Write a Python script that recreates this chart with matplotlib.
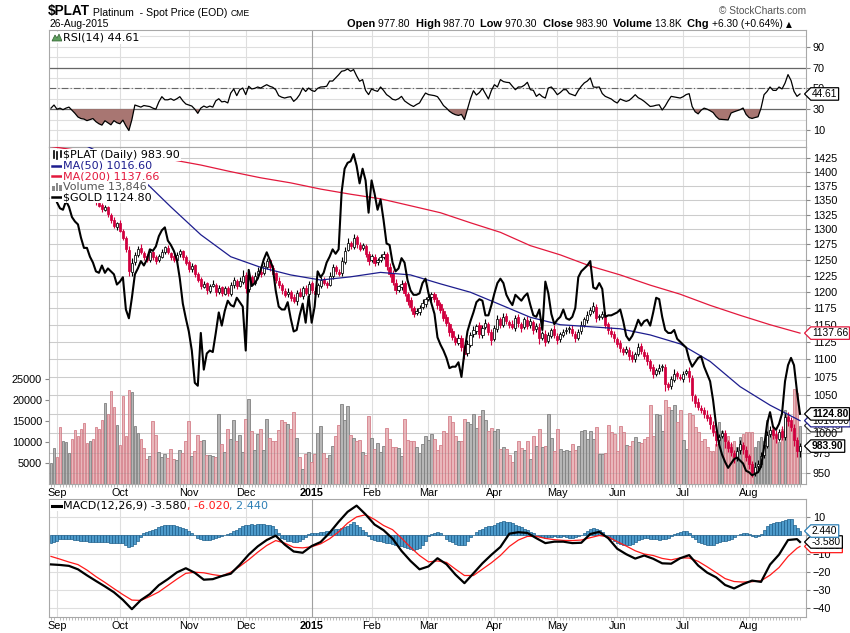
import numpy as np
import pandas as pd
import matplotlib
matplotlib.use('Agg')
import matplotlib.pyplot as plt
import matplotlib.transforms as mtransforms
from matplotlib.lines import Line2D
from matplotlib.patches import Rectangle, Polygon
from matplotlib.path import Path
from matplotlib.ticker import FixedLocator, NullLocator, FuncFormatter

plt.rcParams['font.family'] = ['DejaVu Sans']
TICK_FONT = 'Liberation Sans'

# ---------------------------------------------------------------- data
# $PLAT daily candles, 28-Aug-2014 .. 26-Aug-2015
plat_close = [
    1418, 1422, 1410, 1402, 1406, 1410, 1412, 1398, 1388, 1380,
    1372, 1365, 1358, 1362, 1352, 1346, 1340, 1334, 1338, 1326,
    1315, 1305, 1310, 1298, 1286, 1268, 1232, 1245, 1258, 1268,
    1262, 1255, 1250, 1262, 1255, 1248, 1256, 1262, 1270, 1262,
    1255, 1250, 1258, 1265, 1255, 1245, 1236, 1240, 1228, 1218,
    1208, 1212, 1202, 1208, 1212, 1200, 1206, 1198, 1205, 1198,
    1210, 1218, 1208, 1216, 1225, 1205, 1222, 1215, 1225, 1232,
    1228, 1240, 1248, 1238, 1228, 1218, 1210, 1202, 1195, 1200,
    1190, 1186, 1198, 1194, 1205, 1198, 1212, 1202, 1196, 1210,
    1218, 1214, 1210, 1225, 1238, 1232, 1228, 1248, 1265, 1278,
    1272, 1286, 1275, 1268, 1274, 1260, 1248, 1256, 1245, 1250,
    1254, 1260, 1240, 1228, 1215, 1202, 1208, 1212, 1198, 1186,
    1176, 1166, 1170, 1175, 1182, 1188, 1192, 1196, 1188, 1180,
    1172, 1160, 1152, 1140, 1132, 1125, 1130, 1118, 1108, 1122,
    1135, 1142, 1148, 1136, 1145, 1152, 1140, 1128, 1145, 1158,
    1150, 1162, 1155, 1150, 1146, 1160, 1152, 1145, 1158, 1148,
    1155, 1142, 1148, 1130, 1138, 1125, 1135, 1142, 1135, 1128,
    1136, 1140, 1142, 1145, 1138, 1130, 1140, 1150, 1158, 1165,
    1172, 1178, 1160, 1163, 1166, 1150, 1142, 1136, 1130, 1122,
    1116, 1110, 1114, 1105, 1100, 1108, 1118, 1112, 1105, 1098,
    1088, 1080, 1085, 1088, 1090, 1065, 1062, 1072, 1080, 1076,
    1074, 1080, 1084, 1075, 1050, 1040, 1034, 1030, 1025, 1020,
    1012, 1002, 992, 996, 1000, 990, 982, 976, 970, 978,
    986, 980, 970, 962, 952, 958, 962, 972, 985, 998,
    1005, 998, 994, 1002, 996, 1022, 1016, 1008, 992, 977.6,
    983.9]
plat_open = [
    1414, 1417, 1421, 1409, 1401, 1407, 1410, 1411, 1397, 1387,
    1381, 1371, 1364, 1357, 1361, 1353, 1345, 1341, 1333, 1337,
    1325, 1316, 1304, 1311, 1297, 1285, 1266, 1230, 1246, 1257,
    1269, 1261, 1256, 1249, 1263, 1254, 1249, 1255, 1263, 1269,
    1261, 1256, 1249, 1259, 1264, 1254, 1246, 1235, 1241, 1227,
    1219, 1207, 1213, 1201, 1209, 1211, 1199, 1207, 1197, 1206,
    1197, 1211, 1217, 1209, 1215, 1226, 1204, 1223, 1214, 1226,
    1231, 1229, 1239, 1249, 1237, 1229, 1217, 1211, 1201, 1196,
    1199, 1191, 1185, 1199, 1193, 1206, 1197, 1213, 1201, 1197,
    1209, 1219, 1213, 1211, 1224, 1239, 1231, 1229, 1247, 1266,
    1277, 1271, 1287, 1274, 1269, 1273, 1259, 1249, 1255, 1246,
    1249, 1255, 1259, 1239, 1229, 1214, 1203, 1207, 1213, 1197,
    1187, 1175, 1167, 1169, 1176, 1181, 1189, 1191, 1197, 1187,
    1181, 1171, 1161, 1151, 1141, 1131, 1124, 1131, 1117, 1109,
    1121, 1136, 1141, 1149, 1135, 1146, 1151, 1139, 1129, 1144,
    1159, 1149, 1163, 1154, 1151, 1145, 1161, 1151, 1146, 1157,
    1149, 1154, 1143, 1147, 1131, 1137, 1126, 1134, 1143, 1134,
    1129, 1135, 1141, 1143, 1144, 1137, 1131, 1141, 1149, 1157,
    1166, 1171, 1177, 1161, 1162, 1165, 1151, 1141, 1137, 1129,
    1123, 1115, 1111, 1113, 1106, 1101, 1107, 1119, 1111, 1106,
    1097, 1089, 1079, 1084, 1089, 1089, 1066, 1063, 1071, 1081,
    1075, 1073, 1081, 1083, 1074, 1049, 1041, 1033, 1031, 1024,
    1021, 1011, 1003, 991, 997, 1001, 989, 983, 975, 969,
    979, 985, 979, 971, 961, 951, 959, 961, 973, 984,
    999, 1004, 999, 993, 1003, 995, 1021, 1017, 1007, 991,
    977.8]
# wick length above the body / below the body, in $
wick_up = [
    4, 3, 5, 2, 4, 3, 6, 2, 3, 4,   3, 5, 2, 4, 3, 2, 5, 3, 4, 2,
    3, 4, 2, 5, 3, 4, 6, 8, 5, 4,   6, 3, 4, 5, 2, 3, 4, 6, 3, 5,
    2, 4, 5, 3, 2, 4, 3, 5, 2, 4,   3, 5, 2, 4, 6, 3, 5, 2, 4, 3,
    5, 4, 3, 6, 8, 4, 7, 3, 5, 6,   4, 6, 5, 3, 4, 2, 5, 3, 4, 6,
    3, 5, 4, 6, 3, 5, 4, 3, 6, 4,   5, 3, 4, 6, 5, 3, 4, 6, 5, 7,
    4, 6, 3, 5, 4, 3, 6, 4, 5, 3,   5, 4, 3, 6, 4, 5, 3, 6, 4, 3,
    4, 3, 5, 4, 6, 3, 5, 4, 3, 5,   3, 4, 5, 3, 4, 3, 6, 4, 3, 5,
    4, 6, 3, 5, 4, 6, 3, 5, 4, 6,   3, 5, 4, 3, 6, 4, 5, 3, 4, 6,
    5, 3, 4, 6, 3, 5, 4, 3, 6, 4,   3, 4, 5, 3, 6, 4, 3, 5, 4, 6,
    5, 6, 4, 3, 5, 4, 3, 6, 4, 3,   4, 3, 5, 4, 6, 3, 5, 4, 3, 5,
    4, 5, 3, 6, 4, 5, 3, 4, 6, 3,   5, 4, 3, 6, 4, 3, 5, 4, 3, 6,
    4, 5, 6, 3, 5, 4, 3, 6, 4, 5,   6, 4, 5, 3, 4, 6, 5, 4, 6, 5,
    4, 6, 5, 4, 6, 5, 7, 4, 5, 4,   3.8]
wick_dn = [
    3, 4, 2, 5, 3, 4, 2, 5, 3, 4,   4, 2, 5, 3, 4, 5, 3, 4, 2, 5,
    4, 3, 5, 3, 4, 6, 8, 6, 4, 3,   3, 5, 4, 2, 5, 4, 3, 2, 4, 3,
    5, 3, 2, 4, 5, 3, 6, 4, 5, 3,   4, 2, 5, 3, 2, 6, 3, 5, 2, 4,
    3, 5, 4, 2, 3, 7, 4, 5, 3, 2,   5, 3, 4, 6, 3, 5, 4, 6, 3, 4,
    4, 3, 5, 2, 4, 3, 5, 4, 3, 5,   3, 4, 5, 3, 4, 5, 3, 4, 3, 2,
    5, 3, 6, 4, 3, 5, 6, 3, 5, 4,   3, 4, 6, 5, 4, 6, 3, 4, 5, 6,
    5, 4, 3, 5, 3, 4, 3, 5, 4, 6,   4, 5, 4, 6, 5, 4, 3, 6, 8, 4,
    3, 4, 5, 6, 4, 3, 5, 7, 3, 4,   5, 3, 4, 5, 3, 4, 5, 6, 3, 5,
    4, 6, 3, 8, 4, 6, 3, 4, 5, 6,   4, 3, 4, 5, 4, 5, 3, 4, 3, 4,
    3, 4, 6, 4, 3, 5, 6, 4, 5, 4,   5, 4, 3, 6, 4, 5, 3, 4, 5, 6,
    4, 6, 3, 4, 5, 9, 5, 4, 3, 4,   3, 4, 3, 6, 8, 5, 4, 3, 5, 4,
    6, 5, 8, 4, 3, 9, 6, 5, 7, 4,   5, 6, 5, 7, 6, 4, 5, 3, 4, 3,
    4, 5, 6, 3, 5, 4, 6, 5, 8, 7,   7.5]
# daily volume, thousands of contracts
volume_k = [
    5.1, 8.5, 6.4, 13.5, 10.3, 9.9, 7.3, 10.7, 12.9, 11.5,
    13.1, 14.5, 9.8, 10.1, 10.7, 13.5, 13.1, 15.3, 19.3, 16.7,
    22.0, 18.2, 14.1, 9.3, 20.9, 11.5, 22.3, 21.8, 13.8, 12.2,
    10.7, 8.5, 5.9, 6.6, 14.9, 11.7, 7.7, 6.4, 7.1, 6.1,
    8.3, 5.9, 5.7, 8.1, 7.4, 10.3, 14.9, 6.6, 7.9, 11.7,
    10.3, 10.5, 6.9, 6.9, 6.6, 6.4, 16.7, 9.5, 7.7, 13.1,
    10.7, 15.3, 10.3, 11.7, 7.7, 15.5, 20.1, 12.5, 8.1, 11.9,
    13.1, 8.1, 15.5, 11.0, 10.1, 10.1, 12.9, 15.1, 14.6, 14.3,
    13.0, 17.1, 11.0, 6.4,
    3.5, 7.1, 7.7, 5.2, 7.1, 12.2, 13.7, 7.3, 6.1, 6.9,
    9.1, 11.3, 13.9, 19.1, 15.1, 18.5, 11.7, 11.0, 10.3, 10.5,
    7.7, 6.9, 16.1, 11.0, 8.3, 9.7, 7.7, 9.1, 13.4, 10.7,
    8.7, 8.8, 8.5, 6.7, 15.5, 10.5, 10.1, 10.1, 8.8, 7.3,
    9.5, 11.5, 10.5, 11.9, 10.7, 8.1, 9.3, 12.5, 12.2, 16.1,
    14.6, 11.3, 10.3, 10.1, 15.5, 14.6, 14.3, 16.7, 13.3, 16.1,
    17.5, 15.1, 12.7, 13.3, 12.7, 13.0, 8.3, 8.7, 8.3, 7.0,
    5.2, 7.9, 10.1, 8.5, 8.1, 10.1, 5.9, 11.3, 9.1, 13.0,
    8.9, 9.1, 16.7, 11.0,
    7.9, 13.1, 8.3, 7.9, 8.1, 7.9, 9.5, 8.1, 9.1, 12.7,
    12.9, 10.7, 12.7, 10.7, 13.5, 7.1, 7.1, 7.3, 13.9, 12.3,
    11.9, 7.9, 13.7, 12.3, 9.3, 9.1, 10.3, 11.1, 9.9, 9.7,
    10.7, 11.1, 18.7, 11.5, 16.6, 16.3, 12.7, 19.9, 18.3, 17.5,
    18.7, 14.7, 17.5, 10.5, 8.3, 16.9, 16.3, 13.5, 12.3, 10.3,
    10.7, 8.7, 7.9, 7.9, 9.5, 14.7, 12.7, 11.1, 11.5, 9.5,
    10.3, 8.7, 11.1, 11.9, 12.3, 12.3, 12.3, 8.7, 10.3, 11.1,
    10.3, 15.1, 12.7, 13.5, 10.7, 9.9, 13.1, 17.5, 16.7, 14.3,
    22.5, 21.5, 13.846]
# $GOLD overlay (own scale)
gold_close = [
    1272, 1275, 1269, 1265, 1264, 1270, 1266, 1259, 1256, 1254,
    1245, 1238, 1238, 1232, 1228, 1222, 1221, 1226, 1221, 1224,
    1222, 1220, 1213, 1215, 1218, 1196, 1190, 1204, 1220, 1224,
    1229, 1226, 1230, 1237, 1236, 1239, 1246, 1250, 1252, 1243,
    1240, 1236, 1230, 1217, 1200, 1190, 1181, 1168, 1146, 1144,
    1180, 1155, 1166, 1168, 1167, 1180, 1194, 1185, 1195, 1202,
    1199, 1198, 1204, 1201, 1198, 1168, 1223, 1212, 1214, 1217,
    1223, 1230, 1235, 1230, 1225, 1209, 1198, 1196, 1196, 1201,
    1190, 1181, 1182, 1192, 1200, 1187, 1205, 1187, 1198, 1222,
    1218, 1221, 1228, 1232, 1237, 1234, 1237, 1276, 1292, 1296,
    1297, 1302, 1294, 1282, 1292, 1284, 1262, 1284, 1275, 1264,
    1271, 1257, 1241, 1240, 1228, 1222, 1224, 1231, 1228, 1216,
    1209, 1206, 1206, 1207, 1214, 1217, 1207, 1200, 1193, 1177,
    1172, 1168, 1163, 1156, 1157, 1157, 1160, 1150, 1167, 1181,
    1188, 1194, 1201, 1203, 1202, 1192, 1192, 1199, 1207, 1214,
    1217, 1214, 1206, 1202, 1199, 1206, 1204, 1202, 1205, 1207,
    1199, 1192, 1191, 1196, 1182, 1215, 1207, 1193, 1186, 1189,
    1191, 1196, 1190, 1189, 1191, 1197, 1218, 1222, 1224, 1226,
    1229, 1211, 1210, 1214, 1210, 1191, 1192, 1192, 1193, 1194,
    1196, 1188, 1178, 1175, 1178, 1183, 1189, 1185, 1188, 1189,
    1185, 1194, 1204, 1203, 1191, 1182, 1180, 1180, 1182, 1176,
    1174, 1172, 1170, 1162, 1157, 1160, 1163, 1164, 1157, 1152,
    1147, 1134, 1117, 1104, 1097, 1092, 1088, 1091, 1094, 1095,
    1093, 1091, 1086, 1085, 1083, 1084, 1085, 1089, 1102, 1118,
    1126, 1116, 1114, 1118, 1125, 1147, 1158, 1163, 1158, 1140,
    1124.8]
rsi14 = [
    31, 34, 30, 31, 29.5, 31, 32, 29, 26, 22.5,
    21, 20.5, 19, 20, 21, 18, 16, 14.7, 18.9, 17,
    15, 19, 17, 16, 19.5, 14, 9.5, 20, 34, 33,
    32, 33.5, 33, 32.5, 31, 30, 37, 42, 39, 39,
    40, 38.5, 40, 42, 38, 35, 34, 33, 30, 26,
    31, 33, 31.7, 33, 32, 38, 40, 37, 37.5, 36,
    45.5, 49.4, 43, 48.7, 50.3, 44, 52, 49.4, 50, 51.3,
    50.3, 52, 53.5, 52, 51, 48.7, 43, 41.5, 40.7, 41.5,
    42, 37.5, 40, 44, 50.3, 47, 50.3, 48, 47, 50,
    51.3, 51.5, 52, 57, 57, 60, 63, 66.4, 67, 68.6,
    66.4, 68, 62, 56.8, 58.4, 48, 44, 49.4, 48, 47.1,
    51.3, 48, 44, 42, 39.5, 38.8, 40, 42.3, 38, 35.9,
    34, 32.6, 34.5, 36, 41, 45.5, 44, 43.5, 43, 42,
    38, 33.5, 31, 28, 26, 24.7, 24, 25, 20, 30,
    40, 47.7, 43.6, 46, 50, 45, 39.8, 48, 53.5, 51.3,
    58.4, 56.5, 55.8, 55.5, 52, 48.7, 51.3, 51.3, 53, 55.8,
    48.7, 48.1, 42.3, 44.6, 42, 40.7, 50.3, 51.3, 48, 43.9,
    46, 48.7, 48.7, 45, 44, 42.9, 48, 52, 55.2, 57,
    60, 51.3, 51, 51.3, 45, 42.3, 41, 39.8, 37.5, 35.9,
    39.8, 38.5, 37.5, 38.5, 41, 43.9, 41, 39.5, 37.5, 35,
    32.6, 33, 33.8, 34.2, 29.2, 33, 38, 42.3, 41.8, 41.2,
    40.7, 42, 44, 44.9, 32.6, 27.5, 25.5, 29, 31, 30,
    28.5, 26.8, 23, 20.4, 20.2, 20, 19.7, 26.3, 27.5, 28.5,
    29.5, 31.1, 25, 22, 21.1, 22, 22.7, 31.1, 43.9, 47,
    51.3, 48.1, 48, 51.3, 49.4, 55, 63.2, 57.6, 47.1, 42.3,
    44.61]
# moving averages, read every 10th trading day
ma50_every10 = [1462, 1452, 1425, 1389, 1338, 1291, 1255, 1238, 1226, 1218,
                1223, 1230, 1226, 1212, 1199, 1180, 1161, 1150, 1147, 1144,
                1135, 1122, 1097, 1062, 1037, 1016.6]
ma200_every10 = [1446, 1438, 1432, 1427, 1422, 1412, 1400, 1389, 1380, 1369,
                 1360, 1352, 1340, 1328, 1311, 1295, 1273, 1258, 1240, 1226,
                 1210, 1196, 1179, 1164, 1150, 1137.66]
# MACD(12,26,9) lines, read every 3rd trading day plus the last day
macd_every3 = [
    -15.9, -16.2, -16.7, -18.6, -21.9, -25.0, -28.0, -31.2, -35.4, -40.5,
    -35.5, -32.2, -27.3, -24.0, -20.3, -18.0, -20.5, -24.3, -24.0, -22.3,
    -21.0, -16.1, -10.5, -6.0, -2.5, -0.1, -5.0, -8.8, -9.5, -5.8,
    -3.6, 1.5, 7.5, 13.0, 16.4, 11.6, 6.0, 2.9, -1.7, -8.5,
    -14.0, -18.6, -17.0, -12.5, -15.8, -21.5, -26.2, -20.8, -15.3, -10.6,
    -6.3, 1.0, 1.8, 1.4, -1.5, -4.2, -3.4, -3.4, -4.2, -4.0,
    0.8, 2.0, -1.5, -7.3, -10.3, -12.7, -11.0, -12.8, -15.3, -15.5,
    -12.5, -10.8, -16.5, -20.4, -23.0, -27.2, -29.1, -26.7, -24.8, -25.5,
    -16.0, -10.5, -2.5, -2.0, -3.58]
signal_every3 = [
    -11.5, -13.0, -14.6, -16.0, -19.0, -22.6, -25.8, -29.2, -32.5, -35.5,
    -35.7, -33.5, -31.0, -27.5, -24.0, -20.8, -20.2, -20.5, -21.5, -22.2,
    -20.2, -17.0, -13.3, -9.2, -5.5, -2.8, -4.2, -6.5, -6.8, -6.2,
    -4.6, -1.8, 2.0, 6.8, 10.2, 11.4, 8.8, 5.5, 3.2, -1.5,
    -6.5, -11.0, -14.5, -14.0, -14.8, -18.5, -22.0, -22.0, -18.5, -15.0,
    -11.0, -6.0, -2.5, -0.5, -0.5, -1.6, -2.3, -2.7, -2.8, -2.5,
    -1.2, 0.0, -0.8, -3.4, -5.8, -8.4, -10.2, -11.0, -12.6, -13.4,
    -12.3, -12.4, -14.2, -17.2, -20.4, -23.7, -25.3, -25.6, -25.4, -24.9,
    -21.8, -17.6, -11.5, -7.0, -6.02]
macd_hist = [
    -4.4, -3.5, -2.8, -2.2, -2.1, -2.0, -2.0, -2.1, -2.3, -2.6,
    -2.9, -3.1, -3.3, -3.5, -3.6, -3.7, -3.7, -3.8, -3.7, -3.8,
    -3.9, -4.0, -4.1, -4.0, -4.3, -5.2, -6.2, -6.0, -4.5, -3.0,
    -1.0, 1.2, 1.9, 2.5, 3.0, 3.8, 4.4, 5.0, 5.6, 6.0,
    5.8, 5.6, 5.2, 4.8, 4.3, 3.7, 2.4, 1.2, 0.2, -1.2,
    -2.0, -2.4, -2.5, -2.3, -1.8, -1.2, -0.6, -0.1, 0.5, 0.9,
    1.6, 2.4, 3.2, 4.2, 5.0, 5.6, 5.9, 6.1, 6.0, 6.2,
    6.4, 6.2, 6.0, 5.8, 5.2, 3.4, 1.2, -1.2, -2.2, -2.8,
    -3.3, -3.7, -3.6, -3.0, -1.8, -0.9, 0.6, 1.2, 1.5, 1.6,
    1.8, 2.0, 2.2, 2.5, 3.0, 3.4, 3.6, 4.0, 4.4, 5.2,
    6.4, 7.2, 6.0, 4.6, 2.8, 1.8, -0.5, -1.8, -2.4, -2.8,
    -3.2, -3.6, -4.0, -4.4, -4.8, -5.2, -5.6, -6.0, -6.3, -6.8,
    -7.4, -7.9, -7.6, -6.8, -5.0, -2.8, -0.5, 0.8, 1.5, 1.8,
    1.6, 0.5, -1.8, -2.8, -3.8, -4.6, -5.2, -5.5, -5.0, -3.0,
    -1.0, 0.3, 1.8, 3.0, 3.8, 4.4, 5.0, 5.4, 6.0, 6.6,
    7.2, 7.8, 7.6, 7.2, 6.6, 5.8, 5.0, 4.4, 3.8, 2.8,
    2.0, 1.2, 0.5, -0.2, -0.8, -1.2, -1.0, -0.6, -0.3, -0.8,
    -0.7, -0.5, -0.8, -1.2, -1.3, -1.0, -0.4, 0.4, 1.5, 2.5,
    3.5, 4.2, 3.8, 3.0, 2.0, 0.5, -1.0, -2.2, -3.2, -4.0,
    -4.6, -5.2, -5.5, -5.4, -4.8, -3.8, -2.6, -1.8, -1.4, -1.6,
    -1.8, -2.0, -2.2, -2.4, -2.2, -1.8, -1.2, -0.4, 0.6, 1.4,
    2.0, 2.6, 2.4, 1.6, -0.8, -2.2, -3.4, -4.2, -4.8, -5.2,
    -5.5, -5.0, -4.2, -3.4, -3.0, -2.8, -2.4, -1.8, -0.8, 0.4,
    1.0, 1.4, 1.2, 0.6, -0.3, -0.6, -0.5, 0.6, 3.0, 5.0,
    6.4, 6.8, 7.3, 7.6, 7.9, 8.4, 9.2, 8.8, 6.0, 4.0,
    2.44]

price_ticks = list(range(950, 1426, 25))
volume_ticks = [5000, 10000, 15000, 20000, 25000]
rsi_ticks = [10, 30, 50, 70, 90]
macd_ticks = [10, 0, -10, -20, -30, -40]

holidays = ['2014-09-01', '2014-11-27', '2014-12-25', '2015-01-01', '2015-01-19',
            '2015-02-16', '2015-04-03', '2015-05-25', '2015-07-03']
days = pd.bdate_range('2014-08-28', '2015-08-26')
days = days[~days.isin(pd.to_datetime(holidays))]
n = len(days)
for name, arr in [('close', plat_close), ('open', plat_open), ('wu', wick_up),
                  ('wd', wick_dn), ('vol', volume_k), ('gold', gold_close),
                  ('rsi', rsi14), ('hist', macd_hist)]:
    assert len(arr) == n, (name, len(arr), n)

x = np.arange(n)
close = np.array(plat_close, float)
opn = np.array(plat_open, float)
high = np.maximum(opn, close) + np.array(wick_up, float)
low = np.minimum(opn, close) - np.array(wick_dn, float)
up = np.r_[True, close[1:] >= close[:-1]]
x10 = x[::10]
x3 = np.r_[x[::3], x[-1]]
assert len(x10) == len(ma50_every10) == len(ma200_every10)
assert len(x3) == len(macd_every3) == len(signal_every3)

month_idx = [i for i in range(1, n) if days[i].month != days[i - 1].month]
month_lab = ['2015' if days[i].month == 1 else days[i].strftime('%b') for i in month_idx]

# ---------------------------------------------------------------- layout
W, H = 850, 633
RED = '#d1003f'
GRID = '#dedede'
FRAME = '#a8a8a8'
fig = plt.figure(figsize=(W / 100, H / 100), dpi=100)
renderer = fig.canvas.get_renderer()


def rect(top, bottom, left=49, right=806):
    return [left / W, 1 - bottom / H, (right - left) / W, (bottom - top) / H]


def ftext(px, py, s, **kw):
    return fig.text(px / W, 1 - py / H, s, **kw)


def run_text(px, py, pieces, gap=0):
    """lay out text pieces one after another from pixel x = px"""
    for s, kw in pieces:
        t = ftext(px, py, s, **kw)
        px = t.get_window_extent(renderer).x1 + gap
    return px


def tag_box(x0, y0, width, height, mutation_size):
    pad = mutation_size * 0.12
    x0, y0 = x0 - pad, y0 - pad
    x1, y1 = x0 + width + 2 * pad, y0 + height + 2 * pad
    tip = (y1 - y0) / 2
    return Path([(x0, y0), (x1, y0), (x1, y1), (x0, y1),
                 (x0 - tip, (y0 + y1) / 2), (x0, y0)], closed=True)


TAG_X = (812 - 49) / (806 - 49)


def tag(ax, y, s, ec, bold=False, color='black'):
    tr = mtransforms.blended_transform_factory(ax.transAxes, ax.transData)
    ax.text(TAG_X, y, s, transform=tr, ha='left', va='center', fontsize=7.4,
            family=TICK_FONT, fontweight='bold' if bold else 'normal', color=color,
            bbox=dict(boxstyle=tag_box, fc='white', ec=ec, lw=0.9),
            clip_on=False, zorder=20)


def style_frame(ax):
    for s in ax.spines.values():
        s.set_color(FRAME)
        s.set_linewidth(0.8)


def month_grid(ax):
    for i, lab in zip(month_idx, month_lab):
        ax.axvline(i, color='#a0a0a0' if lab == '2015' else GRID, lw=0.8, zorder=0)


XLIM = (-2 / 2.996, n - 1 + 6 / 2.996)

# ---- RSI panel
ax_r = fig.add_axes(rect(30, 147))
ax_r.set_xlim(*XLIM)
ax_r.set_ylim(-6.3, 106)
rsi = np.array(rsi14, float)
for lv in range(0, 101, 10):
    ax_r.axhline(lv, color=GRID, lw=0.8, zorder=0)
month_grid(ax_r)
ax_r.axhline(70, color='#666666', lw=0.9, zorder=1)
ax_r.axhline(30, color='#666666', lw=0.9, zorder=1)
ax_r.axhline(50, color='#666666', lw=0.8, ls=(0, (6, 2, 1, 2)), zorder=1)
ax_r.fill_between(x, rsi, 30, where=rsi < 30, interpolate=True, color='#a87672',
                  lw=0, zorder=2)
ax_r.plot(x, rsi, color='black', lw=0.9, zorder=3)
ax_r.set_yticks(rsi_ticks)
ax_r.yaxis.tick_right()
ax_r.set_xticks([])
ax_r.tick_params(axis='y', length=3, color='#888888', labelsize=7.8, pad=2,
                 labelfontfamily=TICK_FONT)
style_frame(ax_r)
tag(ax_r, rsi[-1], f'{rsi[-1]:.2f}', 'black')

# ---- price panel: volume (bottom), candles + MAs, gold overlay
ax_v = fig.add_axes(rect(147, 484))
ax_p = fig.add_axes(rect(147, 484), sharex=ax_v)
ax_g = fig.add_axes(rect(147, 484), sharex=ax_v)
ax_p.patch.set_visible(False)
ax_g.patch.set_visible(False)
ax_v.set_xlim(*XLIM)
ax_v.set_ylim(0, 80000)
ax_p.set_yscale('log')
ax_p.set_ylim(937.1, 1445.1)
ax_g.set_ylim(1077, 1306.8)

trp = mtransforms.blended_transform_factory(ax_v.transAxes, ax_p.transData)
for p in price_ticks:
    ax_v.add_line(Line2D([0, 1], [p, p], transform=trp, color=GRID, lw=0.8, zorder=0))
month_grid(ax_v)

vol = np.array(volume_k) * 1000
ax_v.bar(x, vol, width=0.92, color=np.where(up, '#b6b6b6', '#e9b7bb'),
         edgecolor=np.where(up, '#808080', '#d5808a'), linewidth=0.6, zorder=2)
for p in price_ticks:
    ax_v.add_line(Line2D([0, 1], [p, p], transform=trp, color='#8c8c8c', lw=0.6,
                         alpha=0.25, zorder=3))

col = np.where(up, 'black', RED)
ax_p.vlines(x, low, high, colors=col, lw=0.8, zorder=3)
body_lo = np.minimum(opn, close)
body_h = np.maximum(np.abs(close - opn), 0.9)
fill = np.where(close >= opn, 'white', col)
ax_p.bar(x, body_h, bottom=body_lo, width=0.72, color=fill, edgecolor=col,
         linewidth=0.55, zorder=4)
ax_p.plot(x10, ma200_every10, color='#e3193d', lw=0.9, zorder=5)
ax_p.plot(x10, ma50_every10, color='#1d1d8e', lw=0.9, zorder=5)
ax_g.plot(x, gold_close, color='black', lw=1.5, zorder=6)
ax_g.axis('off')

ax_p.yaxis.set_major_locator(FixedLocator(price_ticks))
ax_p.yaxis.set_major_formatter(FuncFormatter(lambda v, _: f'{v:.0f}'))
ax_p.yaxis.set_minor_locator(NullLocator())
ax_p.yaxis.tick_right()
ax_p.tick_params(axis='y', length=3, color='#888888', labelsize=7.8, pad=2,
                 labelfontfamily=TICK_FONT)
ax_p.tick_params(axis='x', which='both', bottom=False, labelbottom=False)
for s in ax_p.spines.values():
    s.set_visible(False)

ax_v.set_yticks(volume_ticks)
ax_v.tick_params(axis='y', length=3, color='#888888', labelsize=7.8, pad=2,
                 labelfontfamily=TICK_FONT)
ax_v.set_xticks(month_idx)
ax_v.set_xticklabels(month_lab)
ax_v.set_xticks(x, minor=True)
ax_v.tick_params(axis='x', which='major', length=0, labelsize=7.8, pad=3,
                 labelfontfamily=TICK_FONT)
ax_v.tick_params(axis='x', which='minor', length=2, color='#b0b0b0')
for lab in ax_v.get_xticklabels():
    if lab.get_text() == '2015':
        lab.set_fontweight('bold')
style_frame(ax_v)

tag(ax_v, vol[-1], f'{vol[-1]:.0f}', '#333333', color='#333333')
tag(ax_p, ma200_every10[-1], f'{ma200_every10[-1]:.2f}', '#e3193d')
tag(ax_p, ma50_every10[-1], f'{ma50_every10[-1]:.2f}', '#1d1d8e')
tag(ax_g, gold_close[-1], f'{gold_close[-1]:.2f}', 'black', bold=True)
tag(ax_p, close[-1], f'{close[-1]:.2f}', 'black', bold=True)

# ---- MACD panel
ax_m = fig.add_axes(rect(499, 617), sharex=ax_v)
ax_m.set_ylim(-44.8, 20.05)
for lv in macd_ticks + [20]:
    ax_m.axhline(lv, color=GRID, lw=0.8, zorder=0)
month_grid(ax_m)
ax_m.bar(x, macd_hist, width=1.0, color='#4d9aca', edgecolor='#1d5f8c',
         linewidth=0.5, zorder=2)
ax_m.plot(x3, signal_every3, color='#ff1a1a', lw=0.9, zorder=3)
ax_m.plot(x3, macd_every3, color='black', lw=1.6, zorder=4)
ax_m.yaxis.set_major_locator(FixedLocator(macd_ticks))
ax_m.yaxis.tick_right()
ax_m.tick_params(axis='y', length=3, color='#888888', labelsize=7.8, pad=2,
                 labelfontfamily=TICK_FONT)
ax_m.tick_params(axis='x', which='major', length=0, labelsize=7.8, pad=3,
                 labelfontfamily=TICK_FONT)
ax_m.tick_params(axis='x', which='minor', length=2, color='#b0b0b0')
for lab in ax_m.get_xticklabels():
    if lab.get_text() == '2015':
        lab.set_fontweight('bold')
style_frame(ax_m)
tag(ax_m, signal_every3[-1], f'{signal_every3[-1]:.3f}', '#ff1a1a')
tag(ax_m, macd_every3[-1], f'{macd_every3[-1]:.3f}', 'black')
tag(ax_m, macd_hist[-1], f'{macd_hist[-1]:.3f}', '#2d7fb5')

# ---------------------------------------------------------------- header
run_text(48, 15.5, [('$PLAT', dict(fontsize=9.8, fontweight='bold', family=TICK_FONT)),
                    (' Platinum  - Spot Price (EOD) ', dict(fontsize=7.6, family=TICK_FONT)),
                    ('CME', dict(fontsize=6.2, family=TICK_FONT))])
ftext(49, 27, '26-Aug-2015', fontsize=7.4, family=TICK_FONT)
ftext(806, 14, '\u00a9 StockCharts.com', fontsize=7.3, family=TICK_FONT,
      color='#555555', ha='right')
B = dict(fontsize=7.9, family=TICK_FONT, fontweight='bold')
R = dict(fontsize=7.4, family=TICK_FONT)
run_text(347, 27, [('Open ', B), ('977.80  ', R), ('High ', B), ('987.70  ', R),
                   ('Low ', B), ('970.30  ', R), ('Close ', B), ('983.90  ', R),
                   ('Volume ', B), ('13.8K  ', R), ('Chg ', B), ('+6.30 (+0.64%) ', R),
                   ('\u25b2', dict(fontsize=5.5))])

# ---------------------------------------------------------------- legends
WHITE_BOX = dict(boxstyle='square,pad=0.1', fc='white', ec='none')
LEG = 8


def white_patch(x0, y0, x1, y1):
    fig.add_artist(Rectangle((x0 / W, 1 - y1 / H), (x1 - x0) / W, (y1 - y0) / H,
                             transform=fig.transFigure, fc='white', ec='none', zorder=2))


def fig_line(xs, ys, **kw):
    fig.add_artist(Line2D([v / W for v in xs], [1 - v / H for v in ys],
                          transform=fig.transFigure, zorder=3, **kw))


# RSI legend
white_patch(50, 32, 64, 43)
fig.add_artist(Polygon([(52 / W, 1 - 41 / H), (55 / W, 1 - 35 / H), (57 / W, 1 - 38 / H),
                        (59 / W, 1 - 34 / H), (62 / W, 1 - 41 / H)], closed=True,
                       transform=fig.transFigure, fc='#5e9e5e', ec='#2f5f2f', lw=0.5,
                       zorder=3))
ftext(63, 37.5, 'RSI(14) 44.61', fontsize=LEG, va='center', bbox=WHITE_BOX, zorder=3)

# price legend
entries = [
    (155.0, '$PLAT (Daily) 983.90', 'black', 'candle'),
    (165.7, 'MA(50) 1016.60', '#1d1d8e', 'line'),
    (176.2, 'MA(200) 1137.66', '#e3193d', 'line'),
    (186.7, 'Volume 13,846', '#555555', 'bars'),
    (197.0, '$GOLD 1124.80', 'black', 'line'),
]
for py, s, c, icon in entries:
    white_patch(50, py - 5.5, 64, py + 5.5)
    if icon == 'line':
        fig_line([52, 62], [py, py], color=c, lw=1.8)
    elif icon == 'candle':
        for cx, top, bot in [(53.5, py - 4, py + 3), (57, py - 3, py + 4), (60.5, py - 4, py + 2)]:
            fig_line([cx, cx], [top, bot], color='black', lw=1.2)
    else:
        for bx, hh in [(52, 5), (55.5, 8), (59, 6)]:
            fig.add_artist(Rectangle((bx / W, 1 - (py + 4) / H), 2.5 / W, hh / H,
                                     transform=fig.transFigure, fc='#8a8a8a',
                                     ec='none', zorder=3))
    ftext(63, py, s, fontsize=LEG, color=c, va='center', bbox=WHITE_BOX, zorder=3)

# MACD legend
white_patch(50, 500, 64, 511)
fig_line([52, 61], [505.5, 505.5], color='black', lw=2.2)
run_text(63, 505.5, [('MACD(12,26,9) -3.580', dict(fontsize=LEG, va='center')),
                     (', -6.020', dict(fontsize=LEG, va='center', color='#ff1a1a')),
                     (', 2.440', dict(fontsize=LEG, va='center', color='#2d7fb5'))])

fig.savefig('out.png', dpi=100)
